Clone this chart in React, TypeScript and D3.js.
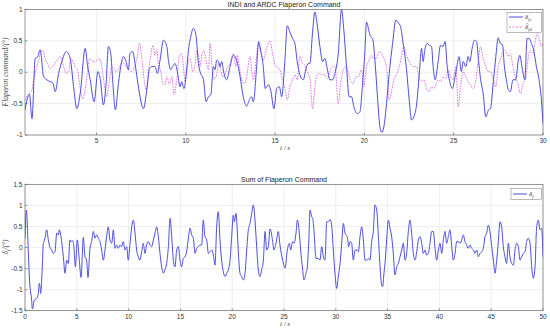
import React from "react";
import * as d3 from "d3";

// INDI flaperon command  [t (s), value (deg)]
const deltaFc: [number, number][] = [
  [1.0, -0.6], [1.25, -0.35], [1.39, -0.74], [1.57, 0.22], [1.7, 0.24], [1.85, 0.36], [2.04, -0.07],
  [2.22, -0.12], [2.41, -0.15], [2.56, -0.17], [2.69, -0.31], [2.88, -0.02], [3.06, 0.17], [3.31, 0.33],
  [3.53, 0.22], [3.72, -0.23], [3.9, -0.58], [4.09, -0.34], [4.37, 0.38], [4.5, 0.11], [4.65, -0.12],
  [4.87, -0.47], [5.08, 0.01], [5.21, -0.1], [5.39, -0.52], [5.54, -0.18], [5.67, 0.41], [5.8, 0.3],
  [5.92, -0.18], [6.06, -0.6], [6.23, -0.18], [6.36, 0.09], [6.51, 0.25], [6.66, 0.17], [6.79, 0.04],
  [6.88, 0.3], [7.03, 0.33], [7.16, 0.14], [7.29, -0.12], [7.44, -0.39], [7.63, -0.58], [7.82, -0.28],
  [7.97, 0.06], [8.1, 0.09], [8.28, 0.09], [8.41, -0.02], [8.56, 0.19], [8.75, 0.51], [8.94, 0.41],
  [9.03, 0.19], [9.16, 0.04], [9.27, 0.09], [9.4, 0.14], [9.53, 0.01], [9.68, -0.23], [9.77, -0.15],
  [9.9, -0.26], [10.05, 0.04], [10.15, 0.35], [10.28, 0.57], [10.43, 0.7], [10.58, 0.57], [10.71, 0.14],
  [10.8, 0.01], [10.99, -0.12], [11.14, -0.47], [11.27, -0.39], [11.4, -0.36], [11.55, 0.09], [11.64, 0.04],
  [11.73, 0.19], [11.83, 0.17], [11.92, 0.09], [12.01, 0.17], [12.14, -0.02], [12.29, -0.12], [12.48, 0.09],
  [12.66, 0.27], [12.85, 0.19], [13.04, -0.07], [13.22, -0.39], [13.41, -0.54], [13.56, -0.44], [13.69, -0.39],
  [13.78, -0.47], [13.97, 0.09], [14.08, 0.49], [14.19, 0.35], [14.34, 0.09], [14.45, -0.26], [14.62, -0.2],
  [14.75, -0.28], [14.94, -0.58], [15.09, -0.26], [15.24, -0.23], [15.37, -0.39], [15.55, 0.19], [15.68, 0.74],
  [15.83, 0.64], [15.98, 0.54], [16.11, 0.46], [16.24, 0.17], [16.39, -0.04], [16.58, -0.12], [16.73, 0.06],
  [16.86, 0.14], [16.95, 0.14], [17.1, 0.64], [17.23, 0.96], [17.35, 0.78], [17.51, 0.41], [17.66, 0.17],
  [17.79, 0.22], [17.92, 0.06], [18.07, -0.12], [18.22, -0.12], [18.35, -0.02], [18.54, 0.3], [18.72, 1.0],
  [18.85, 0.67], [19.0, 0.09], [19.15, -0.39], [19.28, -0.39], [19.41, -0.55], [19.6, -0.66], [19.75, -0.63],
  [19.9, -0.18], [20.03, 0.33], [20.12, 0.8], [20.27, 0.64], [20.34, 0.57], [20.46, 0.54], [20.59, 0.19],
  [20.72, -0.34], [20.87, -0.87], [20.98, -0.96], [21.09, -0.87], [21.24, -0.5], [21.39, -0.02], [21.58, 0.46],
  [21.76, 0.83], [21.89, 0.79], [22.02, 0.73], [22.17, 0.46], [22.36, 0.04], [22.51, -0.44], [22.64, -0.76],
  [22.77, -0.71], [22.92, -0.52], [23.07, -0.04], [23.2, 0.38], [23.29, 0.17], [23.38, 0.35], [23.52, 0.46],
  [23.63, 0.43], [23.76, 0.41], [23.85, 0.09], [23.96, -0.12], [24.13, 0.17], [24.26, 0.43], [24.41, 0.41],
  [24.52, 0.49], [24.63, 0.11], [24.78, -0.15], [24.93, -0.26], [25.06, -0.1], [25.19, 0.11], [25.3, 0.25],
  [25.43, 0.01], [25.53, 0.17], [25.68, 0.09], [25.81, 0.25], [25.9, 0.17], [26.05, 0.41], [26.16, 0.51],
  [26.28, 0.49], [26.39, 0.19], [26.5, -0.1], [26.65, -0.34], [26.8, -0.71], [26.95, -0.6], [27.06, -0.58],
  [27.21, -0.18], [27.36, 0.25], [27.49, 0.55], [27.61, 0.46], [27.73, 0.44], [27.84, 0.09], [27.95, -0.12],
  [28.06, -0.28], [28.17, -0.31], [28.32, -0.12], [28.47, -0.12], [28.62, 0.19], [28.7, 0.27], [28.85, 0.04],
  [28.98, -0.12], [29.11, 0.54], [29.22, 0.54], [29.35, 0.46], [29.48, 0.35], [29.63, 0.09], [29.78, -0.12],
  [29.91, -0.44], [30.0, -0.82],
];

// ARDC flaperon command  [t (s), value (deg)]
const deltaFd: [number, number][] = [
  [1.0, -0.44], [1.2, -0.34], [1.39, -0.28], [1.48, -0.12], [1.63, 0.06], [1.76, 0.19], [1.85, 0.3],
  [2.0, 0.35], [2.13, 0.22], [2.26, 0.14], [2.41, 0.06], [2.6, 0.11], [2.75, 0.17], [2.88, 0.22],
  [3.01, 0.25], [3.16, 0.09], [3.31, -0.02], [3.44, 0.01], [3.57, 0.22], [3.68, 0.17], [3.81, 0.09],
  [3.94, 0.04], [4.09, -0.26], [4.24, -0.42], [4.37, -0.28], [4.5, 0.01], [4.61, 0.22], [4.74, 0.19],
  [4.87, 0.17], [5.02, 0.19], [5.17, 0.22], [5.3, 0.09], [5.43, -0.18], [5.58, -0.39], [5.73, -0.12],
  [5.86, 0.09], [5.99, 0.06], [6.14, 0.01], [6.33, 0.11], [6.47, 0.17], [6.6, 0.11], [6.79, 0.04],
  [6.98, 0.01], [7.16, 0.11], [7.29, 0.25], [7.41, 0.46], [7.54, 0.22], [7.67, -0.12], [7.78, -0.28],
  [7.91, 0.01], [8.04, 0.27], [8.15, 0.43], [8.28, 0.27], [8.38, 0.35], [8.47, 0.14], [8.6, 0.01],
  [8.71, -0.18], [8.84, -0.2], [8.94, -0.07], [9.09, -0.2], [9.22, -0.07], [9.35, -0.36], [9.49, -0.12],
  [9.64, 0.25], [9.77, 0.3], [9.87, 0.09], [9.96, -0.15], [10.05, 0.01], [10.15, 0.19], [10.24, 0.22],
  [10.39, 0.01], [10.52, 0.11], [10.61, 0.35], [10.73, 0.25], [10.8, 0.09], [10.89, 0.25], [11.02, 0.35],
  [11.14, 0.17], [11.27, 0.04], [11.36, 0.46], [11.47, 0.09], [11.58, -0.12], [11.73, -0.04], [11.84, 0.14],
  [11.96, 0.04], [12.07, -0.07], [12.2, -0.04], [12.33, 0.09], [12.44, 0.11], [12.57, 0.25], [12.66, 0.3],
  [12.81, 0.09], [12.89, 0.27], [13.0, 0.09], [13.13, -0.12], [13.26, -0.18], [13.41, -0.07], [13.6, 0.25],
  [13.69, 0.04], [13.78, -0.12], [13.93, 0.17], [14.06, 0.46], [14.19, 0.33], [14.34, 0.19], [14.49, 0.35],
  [14.71, 0.5], [14.86, 0.3], [15.0, 0.11], [15.12, 0.09], [15.27, 0.04], [15.42, -0.12], [15.55, -0.26],
  [15.68, -0.44], [15.83, -0.23], [15.98, -0.12], [16.11, -0.04], [16.24, -0.12], [16.39, 0.25], [16.54, 0.14],
  [16.67, 0.11], [16.8, 0.01], [16.95, -0.1], [17.1, -0.58], [17.23, -0.23], [17.35, -0.04], [17.51, -0.02],
  [17.66, -0.04], [17.79, -0.04], [17.92, -0.1], [18.07, 0.01], [18.22, 0.09], [18.35, 0.09], [18.54, -0.5],
  [18.67, -0.18], [18.82, 0.04], [18.96, 0.09], [19.1, 0.01], [19.23, -0.15], [19.38, -0.18], [19.52, -0.07],
  [19.67, -0.07], [19.84, 0.04], [19.97, -0.23], [20.12, 0.09], [20.27, 0.19], [20.4, 0.27], [20.53, 0.22],
  [20.68, 0.22], [20.83, 0.33], [20.96, 0.3], [21.09, 0.22], [21.24, 0.09], [21.39, -0.44], [21.52, -0.31],
  [21.65, -0.12], [21.8, -0.04], [21.95, 0.09], [22.08, 0.25], [22.21, 0.41], [22.36, 0.27], [22.51, 0.17],
  [22.64, 0.11], [22.77, 0.09], [22.92, 0.09], [23.07, -0.1], [23.2, -0.15], [23.33, -0.12], [23.48, -0.26],
  [23.63, -0.31], [23.76, -0.23], [23.89, -0.26], [24.04, -0.18], [24.13, -0.12], [24.26, -0.15], [24.41, -0.07],
  [24.56, -0.1], [24.69, 0.04], [24.82, -0.07], [24.97, -0.12], [25.12, 0.09], [25.25, -0.55], [25.38, -0.23],
  [25.53, 0.01], [25.68, -0.07], [25.81, -0.15], [25.94, -0.2], [26.09, -0.26], [26.24, -0.12], [26.37, 0.17],
  [26.5, 0.41], [26.65, 0.22], [26.8, 0.09], [26.93, 0.01], [27.06, 0.01], [27.21, -0.1], [27.36, -0.23],
  [27.49, 0.09], [27.61, 0.19], [27.76, 0.33], [27.91, 0.35], [28.05, 0.25], [28.17, 0.3], [28.32, 0.09],
  [28.47, -0.1], [28.6, -0.18], [28.73, -0.34], [28.88, -0.18], [29.03, -0.1], [29.17, 0.22], [29.29, 0.35],
  [29.44, 0.3], [29.55, 0.46], [29.67, 0.62], [29.78, 0.54], [29.91, 0.41], [30.0, 0.46],
];

// Sum of flaperon command  [t (s), value (deg)]
const deltaF: [number, number][] = [
  [0.0, 0.22], [0.13, 0.89], [0.32, -0.1], [0.42, -0.7], [0.64, -1.25], [0.71, -1.46], [0.9, -1.25],
  [1.13, -1.21], [1.29, -1.09], [1.38, -0.85], [1.45, -0.93], [1.51, -1.09], [1.67, -0.46], [1.77, 0.1],
  [1.83, 0.14], [1.93, 0.22], [2.09, 0.42], [2.25, 0.18], [2.41, 0.0], [2.57, -0.06], [2.73, -0.14],
  [2.9, -0.1], [3.06, 0.34], [3.22, 0.3], [3.31, 0.42], [3.47, 0.26], [3.7, -0.22], [3.86, -0.61],
  [4.02, -0.3], [4.18, -0.38], [4.34, 0.18], [4.44, 0.14], [4.6, 0.16], [4.73, 0.0], [4.86, -0.46],
  [5.05, 0.18], [5.24, -0.3], [5.41, -0.71], [5.63, 0.24], [5.79, -0.22], [5.95, -0.3], [6.08, -0.71],
  [6.27, -0.02], [6.43, 0.14], [6.6, 0.38], [6.76, 0.22], [6.92, 0.3], [7.08, 0.22], [7.24, 0.14],
  [7.4, -0.06], [7.56, -0.3], [7.72, -0.06], [7.88, 0.26], [8.04, 0.49], [8.2, 0.18], [8.37, 0.1],
  [8.53, 0.42], [8.69, -0.02], [8.85, 0.06], [9.01, -0.02], [9.17, 0.06], [9.33, 0.02], [9.49, 0.14],
  [9.65, -0.06], [9.81, 0.02], [9.97, -0.3], [10.14, 0.1], [10.3, 0.49], [10.46, 0.65], [10.62, 0.34],
  [10.78, -0.06], [10.94, -0.22], [11.1, -0.3], [11.26, -0.1], [11.42, 0.1], [11.58, -0.14], [11.74, 0.06],
  [11.9, 0.14], [12.07, 0.06], [12.23, 0.02], [12.39, 0.18], [12.55, 0.34], [12.71, 0.49], [12.87, 0.26],
  [13.03, -0.14], [13.19, -0.46], [13.35, -0.61], [13.51, -0.53], [13.67, -0.38], [13.84, 0.02], [14.0, 0.69],
  [14.16, 0.26], [14.32, -0.3], [14.48, -0.46], [14.64, -0.06], [14.8, 0.02], [14.96, -0.3], [15.12, -0.46],
  [15.28, -0.26], [15.44, -0.22], [15.6, -0.1], [15.77, 0.22], [15.93, 0.46], [16.09, 0.3], [16.25, 0.22],
  [16.41, -0.14], [16.57, -0.02], [16.73, 0.02], [16.89, 0.06], [17.05, 0.06], [17.21, 0.65], [17.37, 0.26],
  [17.54, 0.18], [17.7, -0.14], [17.86, -0.1], [18.02, -0.06], [18.18, -0.18], [18.34, -0.42], [18.5, 0.49],
  [18.66, 0.85], [18.82, 0.18], [18.98, -0.3], [19.14, -0.57], [19.31, -0.69], [19.47, -0.61], [19.63, -0.53],
  [19.79, -0.3], [19.95, 0.26], [20.11, 0.77], [20.21, 0.61], [20.37, 0.81], [20.5, 0.34], [20.62, -0.22],
  [20.75, -0.61], [20.91, -0.69], [21.07, -0.77], [21.24, -0.61], [21.4, -0.06], [21.56, 0.42], [21.72, 0.57],
  [21.88, 0.81], [22.04, 1.01], [22.2, 0.65], [22.36, 0.02], [22.52, -0.53], [22.68, -0.69], [22.84, -0.53],
  [23.01, -0.3], [23.17, 0.38], [23.33, -0.06], [23.49, 0.02], [23.65, 0.44], [23.91, 0.14], [24.03, -0.06],
  [24.23, 0.1], [24.45, 0.38], [24.61, 0.06], [24.87, -0.3], [25.1, -0.49], [25.32, -0.06], [25.52, 0.1],
  [25.64, -0.06], [25.84, 0.14], [25.97, 0.1], [26.16, 0.34], [26.29, 0.65], [26.48, 0.34], [26.61, -0.06],
  [26.8, -0.53], [26.93, -0.77], [27.12, -0.61], [27.25, -0.46], [27.41, 0.26], [27.51, 0.89], [27.67, 0.73],
  [27.77, 0.69], [27.9, 0.38], [28.09, -0.26], [28.31, -0.26], [28.47, -0.3], [28.64, 0.02], [28.8, -0.22],
  [28.96, -0.3], [29.12, 0.61], [29.28, 0.61], [29.44, 0.67], [29.6, 0.53], [29.76, -0.06], [29.92, -0.61],
  [30.08, -0.97], [30.24, -0.69], [30.41, -0.38], [30.57, 0.1], [30.73, 0.57], [30.89, 0.34], [30.98, 0.3],
  [31.11, 0.26], [31.24, 0.02], [31.37, 0.14], [31.53, 0.1], [31.69, -0.3], [31.85, -0.06], [32.01, -0.06],
  [32.18, -0.1], [32.34, 0.26], [32.5, 0.49], [32.66, 0.18], [32.82, -0.3], [32.98, -0.3], [33.14, -0.26],
  [33.3, -0.3], [33.46, 0.14], [33.62, 0.38], [33.78, 1.01], [33.95, 0.89], [34.11, 0.26], [34.27, -0.46],
  [34.43, -0.89], [34.52, -0.93], [34.65, -0.61], [34.75, -0.38], [34.91, 0.18], [35.07, 0.65], [35.23, 0.46],
  [35.39, 0.26], [35.55, -0.14], [35.71, -0.65], [35.88, -0.46], [36.04, -0.38], [36.2, -0.22], [36.36, -0.06],
  [36.52, 0.1], [36.68, -0.3], [36.84, -0.14], [37.0, 0.38], [37.16, 0.65], [37.32, 0.34], [37.48, -0.14],
  [37.65, -0.3], [37.81, -0.1], [37.97, 0.18], [38.13, 0.26], [38.29, 0.1], [38.45, -0.14], [38.61, -0.06],
  [38.77, -0.18], [38.93, -0.14], [39.09, 0.1], [39.25, 0.38], [39.41, 0.38], [39.58, -0.02], [39.74, -0.3],
  [39.9, -0.06], [40.06, 0.1], [40.22, -0.14], [40.38, 0.18], [40.54, 0.38], [40.7, 0.1], [40.86, 0.26],
  [41.02, 0.42], [41.18, 0.06], [41.34, -0.3], [41.51, -0.14], [41.67, 0.14], [41.83, 0.14], [41.99, 0.1],
  [42.15, 0.18], [42.31, 0.3], [42.47, 0.14], [42.63, 0.06], [42.79, -0.02], [42.95, 0.06], [43.11, -0.02],
  [43.28, -0.06], [43.44, -0.14], [43.6, -0.06], [43.76, -0.22], [43.92, -0.14], [44.08, -0.1], [44.24, -0.02],
  [44.4, 0.26], [44.56, 0.34], [44.72, 0.53], [44.88, 0.38], [45.05, 0.02], [45.21, -0.3], [45.37, -0.61],
  [45.53, -0.3], [45.69, 0.14], [45.85, 0.61], [46.01, 0.49], [46.17, 0.02], [46.33, -0.22], [46.49, -0.38],
  [46.65, 0.1], [46.81, -0.22], [46.98, -0.38], [47.14, -0.42], [47.3, -0.06], [47.46, 0.1], [47.62, 0.02],
  [47.78, -0.3], [47.94, -0.22], [48.1, -0.14], [48.26, -0.1], [48.42, 0.14], [48.58, 0.22], [48.75, 0.1],
  [48.91, -0.46], [49.07, -0.73], [49.23, -0.46], [49.39, 0.49], [49.55, 0.65], [49.71, 0.42], [49.87, 0.46],
  [50.0, -0.22],
];

const topXTicks = [5, 10, 15, 20, 25, 30];
const topYTicks = [-1, -0.5, 0, 0.5, 1];
const botXTicks = [0, 5, 10, 15, 20, 25, 30, 35, 40, 45, 50];
const botYTicks = [-1.5, -1, -0.5, 0, 0.5, 1, 1.5];

const BLUE = "#4c4ce4";
const MAGENTA = "#e070e6";
const AXIS = "#5a5a5a";
const GRID = "#e3e3e3";
const sans = "'Liberation Sans', Arial, sans-serif";
const serif = "'Liberation Serif', 'DejaVu Serif', serif";

const left = 25;
const right = 543;

function Panel(props: {
  top: number;
  bottom: number;
  xDomain: [number, number];
  yDomain: [number, number];
  xTicks: number[];
  yTicks: number[];
  title: string;
  series: { data: [number, number][]; color: string; dash?: string }[];
  xLabelY: number;
  children?: React.ReactNode;
}) {
  const { top, bottom, xDomain, yDomain, xTicks, yTicks, title, series, xLabelY } = props;
  const x = d3.scaleLinear().domain(xDomain).range([left, right]);
  const y = d3.scaleLinear().domain(yDomain).range([bottom, top]);
  const line = d3
    .line<[number, number]>()
    .x((d) => x(d[0]))
    .y((d) => y(d[1]))
    .curve(d3.curveMonotoneX);
  const fmt = (v: number) => (v < 0 ? "-" + Math.abs(v) : String(v));
  const clipId = "clip" + Math.round(top);
  return (
    <g>
      <rect x={left} y={top} width={right - left} height={bottom - top} fill="#fff" />
      {xTicks.map((t) => (
        <line key={"gx" + t} x1={x(t)} x2={x(t)} y1={top} y2={bottom} stroke={GRID} strokeWidth={0.6} />
      ))}
      {yTicks.map((t) => (
        <line key={"gy" + t} x1={left} x2={right} y1={y(t)} y2={y(t)} stroke={GRID} strokeWidth={0.6} />
      ))}
      <clipPath id={clipId}>
        <rect x={left} y={top - 1} width={right - left} height={bottom - top + 2} />
      </clipPath>
      <g clipPath={`url(#${clipId})`}>
        {series.map((s, i) => (
          <path
            key={i}
            d={line(s.data) || ""}
            fill="none"
            stroke={s.color}
            strokeWidth={1}
            strokeDasharray={s.dash}
          />
        ))}
      </g>
      <rect x={left} y={top} width={right - left} height={bottom - top} fill="none" stroke={AXIS} strokeWidth={0.6} />
      {xTicks.map((t) => (
        <g key={"tx" + t}>
          <line x1={x(t)} x2={x(t)} y1={bottom} y2={bottom - 2.5} stroke={AXIS} strokeWidth={0.6} />
          <text x={x(t)} y={bottom + 8} fontSize={6.5} fontFamily={sans} fill="#333" textAnchor="middle">
            {t}
          </text>
        </g>
      ))}
      {yTicks.map((t) => (
        <g key={"ty" + t}>
          <line x1={left} x2={left + 2.5} y1={y(t)} y2={y(t)} stroke={AXIS} strokeWidth={0.6} />
          <text x={left - 2.5} y={y(t) + 2.2} fontSize={6.5} fontFamily={sans} fill="#333" textAnchor="end">
            {fmt(t)}
          </text>
        </g>
      ))}
      <text x={(left + right) / 2} y={top - 2.5} fontSize={7} fontFamily={sans} fill="#222" textAnchor="middle">
        {title}
      </text>
      <text x={285} y={xLabelY} fontSize={7} fontFamily={serif} fontStyle="italic" fill="#444" textAnchor="middle">
        t / s
      </text>
      {props.children}
    </g>
  );
}

function LegendItem(props: { x: number; y: number; color: string; dash?: string; sub: string; hat?: boolean }) {
  const { x, y, color, dash, sub, hat } = props;
  return (
    <g>
      <line x1={x} x2={x + 14} y1={y} y2={y} stroke={color} strokeWidth={1} strokeDasharray={dash} />
      {hat && (
        <path
          d={`M${x + 16.8},${y - 2.6} L${x + 18.2},${y - 3.8} L${x + 19.6},${y - 2.6}`}
          fill="none"
          stroke="#444"
          strokeWidth={0.4}
        />
      )}
      <text x={x + 16} y={y + 2} fontSize={7} fontFamily={serif} fontStyle="italic" fill="#444">
        δ
        <tspan fontSize={4.5} dy={1.5}>
          {sub}
        </tspan>
      </text>
    </g>
  );
}

export default function App() {
  return (
    <svg width={550} height={332} style={{ position: "absolute", left: 0, top: 0, background: "#fff" }}>
      <rect width={550} height={332} fill="#fff" />
      <Panel
        top={9.5}
        bottom={135}
        xDomain={[1, 30]}
        yDomain={[-1, 1]}
        xTicks={topXTicks}
        yTicks={topYTicks}
        title="INDI and ARDC Flaperon Command"
        series={[
          { data: deltaFd, color: MAGENTA, dash: "1.5,1.2" },
          { data: deltaFc, color: BLUE },
        ]}
        xLabelY={150}
      >
        <rect x={507} y={12.5} width={34.5} height={20} fill="#fff" stroke="#777" strokeWidth={0.5} />
        <LegendItem x={509} y={17} color={BLUE} sub="fc" />
        <LegendItem x={509} y={27} color={MAGENTA} dash="2,1.5" sub="fd" hat />
      </Panel>
      <Panel
        top={184.3}
        bottom={310.7}
        xDomain={[0, 50]}
        yDomain={[-1.5, 1.5]}
        xTicks={botXTicks}
        yTicks={botYTicks}
        title="Sum of Flaperon Command"
        series={[{ data: deltaF, color: BLUE }]}
        xLabelY={326}
      >
        <rect x={511} y={188.5} width={30.5} height={11} fill="#fff" stroke="#777" strokeWidth={0.5} />
        <LegendItem x={513} y={194} color={BLUE} sub="f" />
      </Panel>
      <text
        transform="translate(8,72) rotate(-90)"
        fontSize={7.5}
        fontFamily={serif}
        fontStyle="italic"
        fill="#444"
        textAnchor="middle"
      >
        Flaperon command/(°)
      </text>
      <text
        transform="translate(8,247) rotate(-90)"
        fontSize={7.5}
        fontFamily={serif}
        fontStyle="italic"
        fill="#444"
        textAnchor="middle"
      >
        δ<tspan fontSize={5} dy={1.5}>f</tspan>
        <tspan dy={-1.5}>/(°)</tspan>
      </text>
    </svg>
  );
}
